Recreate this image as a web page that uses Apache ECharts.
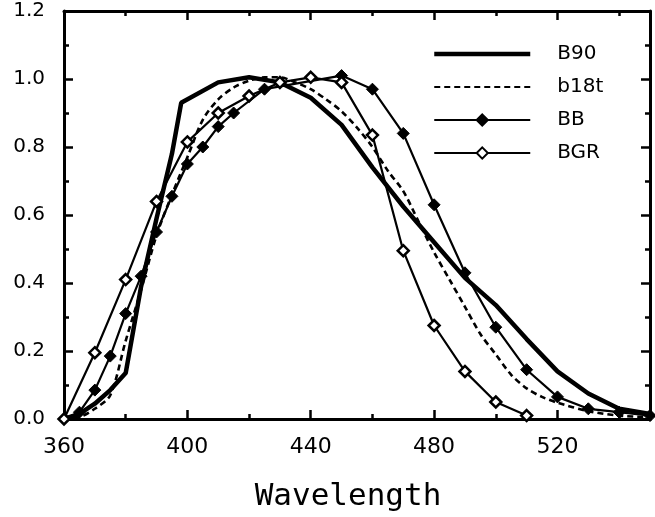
<!DOCTYPE html>
<html>
<head>
<meta charset="utf-8">
<script src="https://cdn.jsdelivr.net/npm/echarts@6/dist/echarts.min.js"></script>
<style>
html,body{margin:0;padding:0;background:#fff;}
#c{width:655px;height:517px;}
</style>
</head>
<body>
<div id="c"></div>
<script>
// ---- data ----
const b90Wl  = [360,365,370,375,380,385,390,395,398,410,420,430,440,450,460,470,480,490,500,510,520,530,540,550];
const b90Val = [0,0.015,0.045,0.085,0.135,0.39,0.59,0.78,0.93,0.99,1.005,0.99,0.945,0.865,0.74,0.625,0.52,0.415,0.335,0.235,0.14,0.075,0.03,0.015];

const b18tWl  = [360,365,370,375,380,385,390,395,400,405,410,415,420,425,430,435,440,445,450,455,460,465,470,475,480,485,490,495,500,505,510,515,520,530,540,550];
const b18tVal = [0,0.005,0.03,0.07,0.23,0.38,0.54,0.66,0.77,0.88,0.94,0.975,0.995,1.005,1.005,0.99,0.97,0.94,0.905,0.857,0.80,0.73,0.67,0.58,0.49,0.41,0.33,0.25,0.19,0.13,0.09,0.065,0.048,0.023,0.01,0.005];

const bbWl  = [360,365,370,375,380,385,390,395,400,405,410,415,425,450,460,470,480,490,500,510,520,530,540,550];
const bbVal = [0,0.02,0.085,0.185,0.31,0.42,0.55,0.655,0.75,0.80,0.86,0.90,0.97,1.01,0.97,0.84,0.63,0.43,0.27,0.145,0.065,0.03,0.02,0.01];

const bgrWl  = [360,370,380,390,400,410,420,430,440,450,460,470,480,490,500,510];
const bgrVal = [0,0.195,0.41,0.64,0.815,0.90,0.95,0.99,1.005,0.99,0.835,0.495,0.275,0.14,0.05,0.01];

const seriesNames = ['B90','b18t','BB','BGR'];
const xTitle = 'Wavelength';

const zip = (a,b) => a.map((v,i)=>[v,b[i]]);
const FONT = 'DejaVu Sans';

const chart = echarts.init(document.getElementById('c'), null, {renderer:'canvas'});

const black = '#000';

function xAx(pos, interval, len, withLine, withLabel, name){
  return {
    type:'value', position:pos, min:360, max:550, interval:interval,
    gridIndex:0,
    name: name || '', nameLocation:'middle', nameGap:62,
    nameTextStyle:{fontFamily:'DejaVu Sans Mono', fontSize:31, color:black, letterSpacing:1.5, padding:[0,18,0,0]},
    axisLine:{show:withLine, onZero:false, lineStyle:{color:black, width:3}},
    axisTick:{show:true, inside:true, length:len, lineStyle:{color:black, width:2.5}},
    axisLabel:{show:withLabel, margin:17, fontFamily:FONT, fontSize:22, color:black,
      formatter:(v)=> (v===550 ? '' : String(v)), showMaxLabel:false},
    splitLine:{show:false}
  };
}
function yAx(pos, withLabel){
  return {
    type:'value', position:pos, min:0, max:1.2, interval:0.2, gridIndex:0,
    axisLine:{show:true, onZero:false, lineStyle:{color:black, width:3}},
    axisTick:{show:true, inside:true, length:9, lineStyle:{color:black, width:2.5}},
    minorTick:{show:true, splitNumber:2, length:5, lineStyle:{color:black, width:2.5}},
    axisLabel:{show:withLabel, margin:19, fontFamily:FONT, fontSize:20, color:black,
      formatter:(v)=>v.toFixed(1)},
    splitLine:{show:false}
  };
}

const option = {
  backgroundColor:'#fff',
  animation:false,
  grid: {left:64, right:5, top:11, bottom:96, show:false},
  legend: {
    orient:'vertical', left:427, top:39,
    itemWidth:96, itemHeight:14, itemGap:13,
    data: [
      {name:seriesNames[0], itemStyle:{opacity:0}, lineStyle:{width:4.5}},
      {name:seriesNames[1], itemStyle:{opacity:0}},
      {name:seriesNames[2]},
      {name:seriesNames[3]}
    ],
    textStyle:{fontFamily:FONT, fontSize:20, lineHeight:20, color:black, padding:[0,0,0,22]},
    inactiveColor:'#000'
  },
  xAxis: [
    xAx('bottom', 40, 9, true, true, xTitle),
    xAx('bottom', 20, 5, false, false),
    xAx('top', 40, 9, true, false),
    xAx('top', 20, 5, false, false)
  ],
  yAxis: [ yAx('left', true), yAx('right', false) ],
  series: [
    {name:seriesNames[0], type:'line', xAxisIndex:0, yAxisIndex:0, data:zip(b90Wl,b90Val),
      symbol:'none', lineStyle:{color:black, width:4.5}, itemStyle:{color:black}, z:3},
    {name:seriesNames[1], type:'line', xAxisIndex:0, yAxisIndex:0, data:zip(b18tWl,b18tVal),
      symbol:'none', smooth:0.3, lineStyle:{color:black, width:2.6, type:[6,4]}, itemStyle:{color:black}, z:3},
    {name:seriesNames[2], type:'line', xAxisIndex:0, yAxisIndex:0, data:zip(bbWl,bbVal),
      symbol:'diamond', symbolSize:12, showAllSymbol:true,
      lineStyle:{color:black, width:2.2}, itemStyle:{color:black, borderColor:black, borderWidth:1}, z:4},
    {name:seriesNames[3], type:'line', xAxisIndex:0, yAxisIndex:0, data:zip(bgrWl,bgrVal),
      symbol:'diamond', symbolSize:11, showAllSymbol:true,
      lineStyle:{color:black, width:2.2}, itemStyle:{color:'#fff', borderColor:black, borderWidth:2.5}, z:5}
  ]
};
chart.setOption(option);
</script>
</body>
</html>
